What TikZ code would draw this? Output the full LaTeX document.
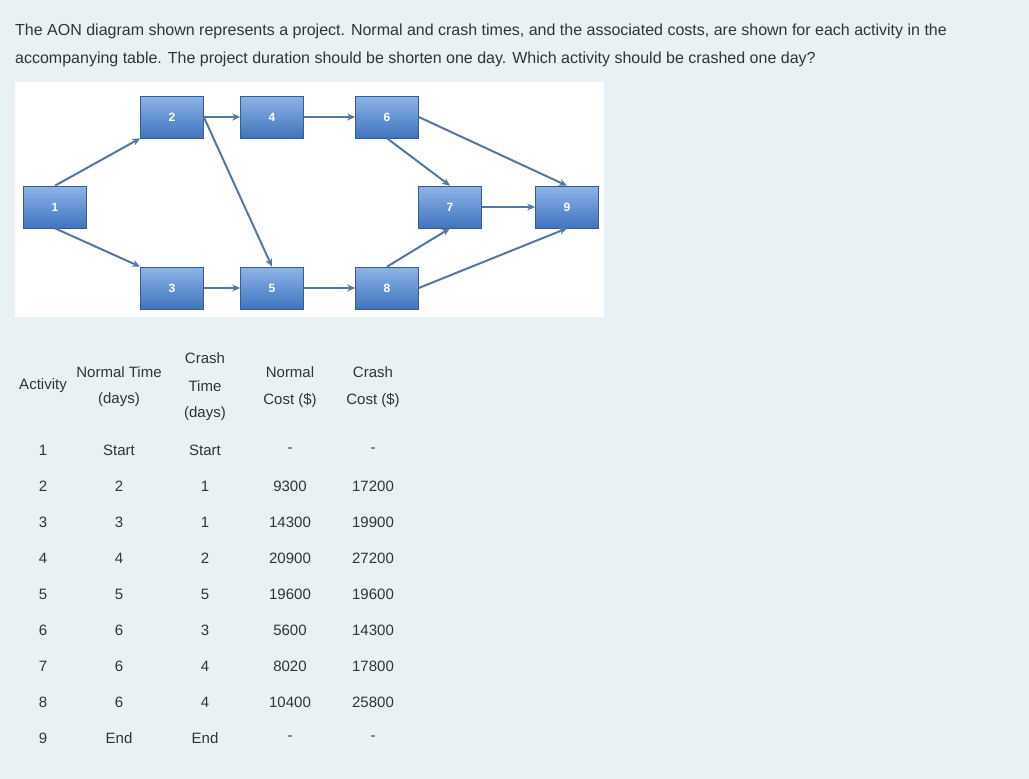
\documentclass[tikz,border=0pt]{standalone}
\usepackage{fontspec}
\setmainfont{Liberation Sans}
\definecolor{bg}{HTML}{E8F2F5}
\definecolor{txt}{HTML}{333333}
\definecolor{boxtop}{HTML}{8DB4E8}
\definecolor{boxbot}{HTML}{3F74BD}
\definecolor{arr}{HTML}{5578A0}
\usetikzlibrary{arrows.meta}
\begin{document}
\begin{tikzpicture}[x=1pt,y=-1pt,
  box/.style={draw=boxbot!80!black,line width=0.6pt,top color=boxtop,bottom color=boxbot,minimum width=63pt,minimum height=42pt,inner sep=0pt,text=white,font=\fontsize{12}{14}\selectfont\bfseries},
  con/.style={draw=arr,line width=2pt,-{Stealth[length=8pt,width=7pt]}},
  t/.style={text=txt,font=\fontsize{15}{17}\selectfont,inner sep=0pt}]
\fill[bg] (0,0) rectangle (1029,779);
\useasboundingbox (0,0) rectangle (1029,779);
\node[t,anchor=west,font=\fontsize{16}{18}\selectfont] (l1) at (15,31) {The AON diagram shown represents a project. Normal and crash times, and the associated costs, are shown for each activity in the};
\node[t,anchor=west,font=\fontsize{16}{18}\selectfont] (l2) at (15,59) {accompanying table. The project duration should be shorten one day. Which activity should be crashed one day?};
\fill[white] (15,82) rectangle (604,317);
\node[box] (n1) at (55,207) {1};
\node[box] (n2) at (172,117) {2};
\node[box] (n4) at (272,117) {4};
\node[box] (n6) at (387,117) {6};
\node[box] (n3) at (172,288) {3};
\node[box] (n5) at (272,288) {5};
\node[box] (n8) at (387,288) {8};
\node[box] (n7) at (450,207) {7};
\node[box] (n9) at (567,207) {9};
\draw[con] (n1.north) -- (n2.south west);
\draw[con] (n1.south) -- (n3.north west);
\draw[con] (n2) -- (n4);
\draw[con] (n4) -- (n6);
\draw[con] (n3) -- (n5);
\draw[con] (n5) -- (n8);
\draw[con] (n2.east) -- (n5.north);
\draw[con] (n6.south) -- (n7.north);
\draw[con] (n6.east) -- (n9.north);
\draw[con] (n8.north) -- (n7.south);
\draw[con] (n8.east) -- (n9.south);
\draw[con] (n7) -- (n9);
% table
\node[t] (h1) at (43,386) {Activity};
\node[t] (h2a) at (119,372) {Normal Time};
\node[t] (h2b) at (119,400) {(days)};
\node[t] (h3a) at (205,358) {Crash};
\node[t] (h3b) at (205,386) {Time};
\node[t] (h3c) at (205,414) {(days)};
\node[t] (h4a) at (290,372) {Normal};
\node[t] (h4b) at (290,400) {Cost (\$)};
\node[t] (h5a) at (373,372) {Crash};
\node[t] (h5b) at (373,400) {Cost (\$)};
\foreach \a/\b/\c/\d/\e [count=\i] in {1/Start/Start/-/-,2/2/1/9300/17200,3/3/1/14300/19900,4/4/2/20900/27200,5/5/5/19600/19600,6/6/3/5600/14300,7/6/4/8020/17800,8/6/4/10400/25800,9/End/End/-/-}{
  \pgfmathsetmacro{\yy}{450+36*(\i-1)}
  \node[t] (ra\i) at (43,\yy) {\a};
  \node[t] (rb\i) at (119,\yy) {\b};
  \node[t] (rc\i) at (205,\yy) {\c};
  \node[t] (rd\i) at (290,\yy) {\d};
  \node[t] (re\i) at (373,\yy) {\e};
}
\end{tikzpicture}
\end{document}
